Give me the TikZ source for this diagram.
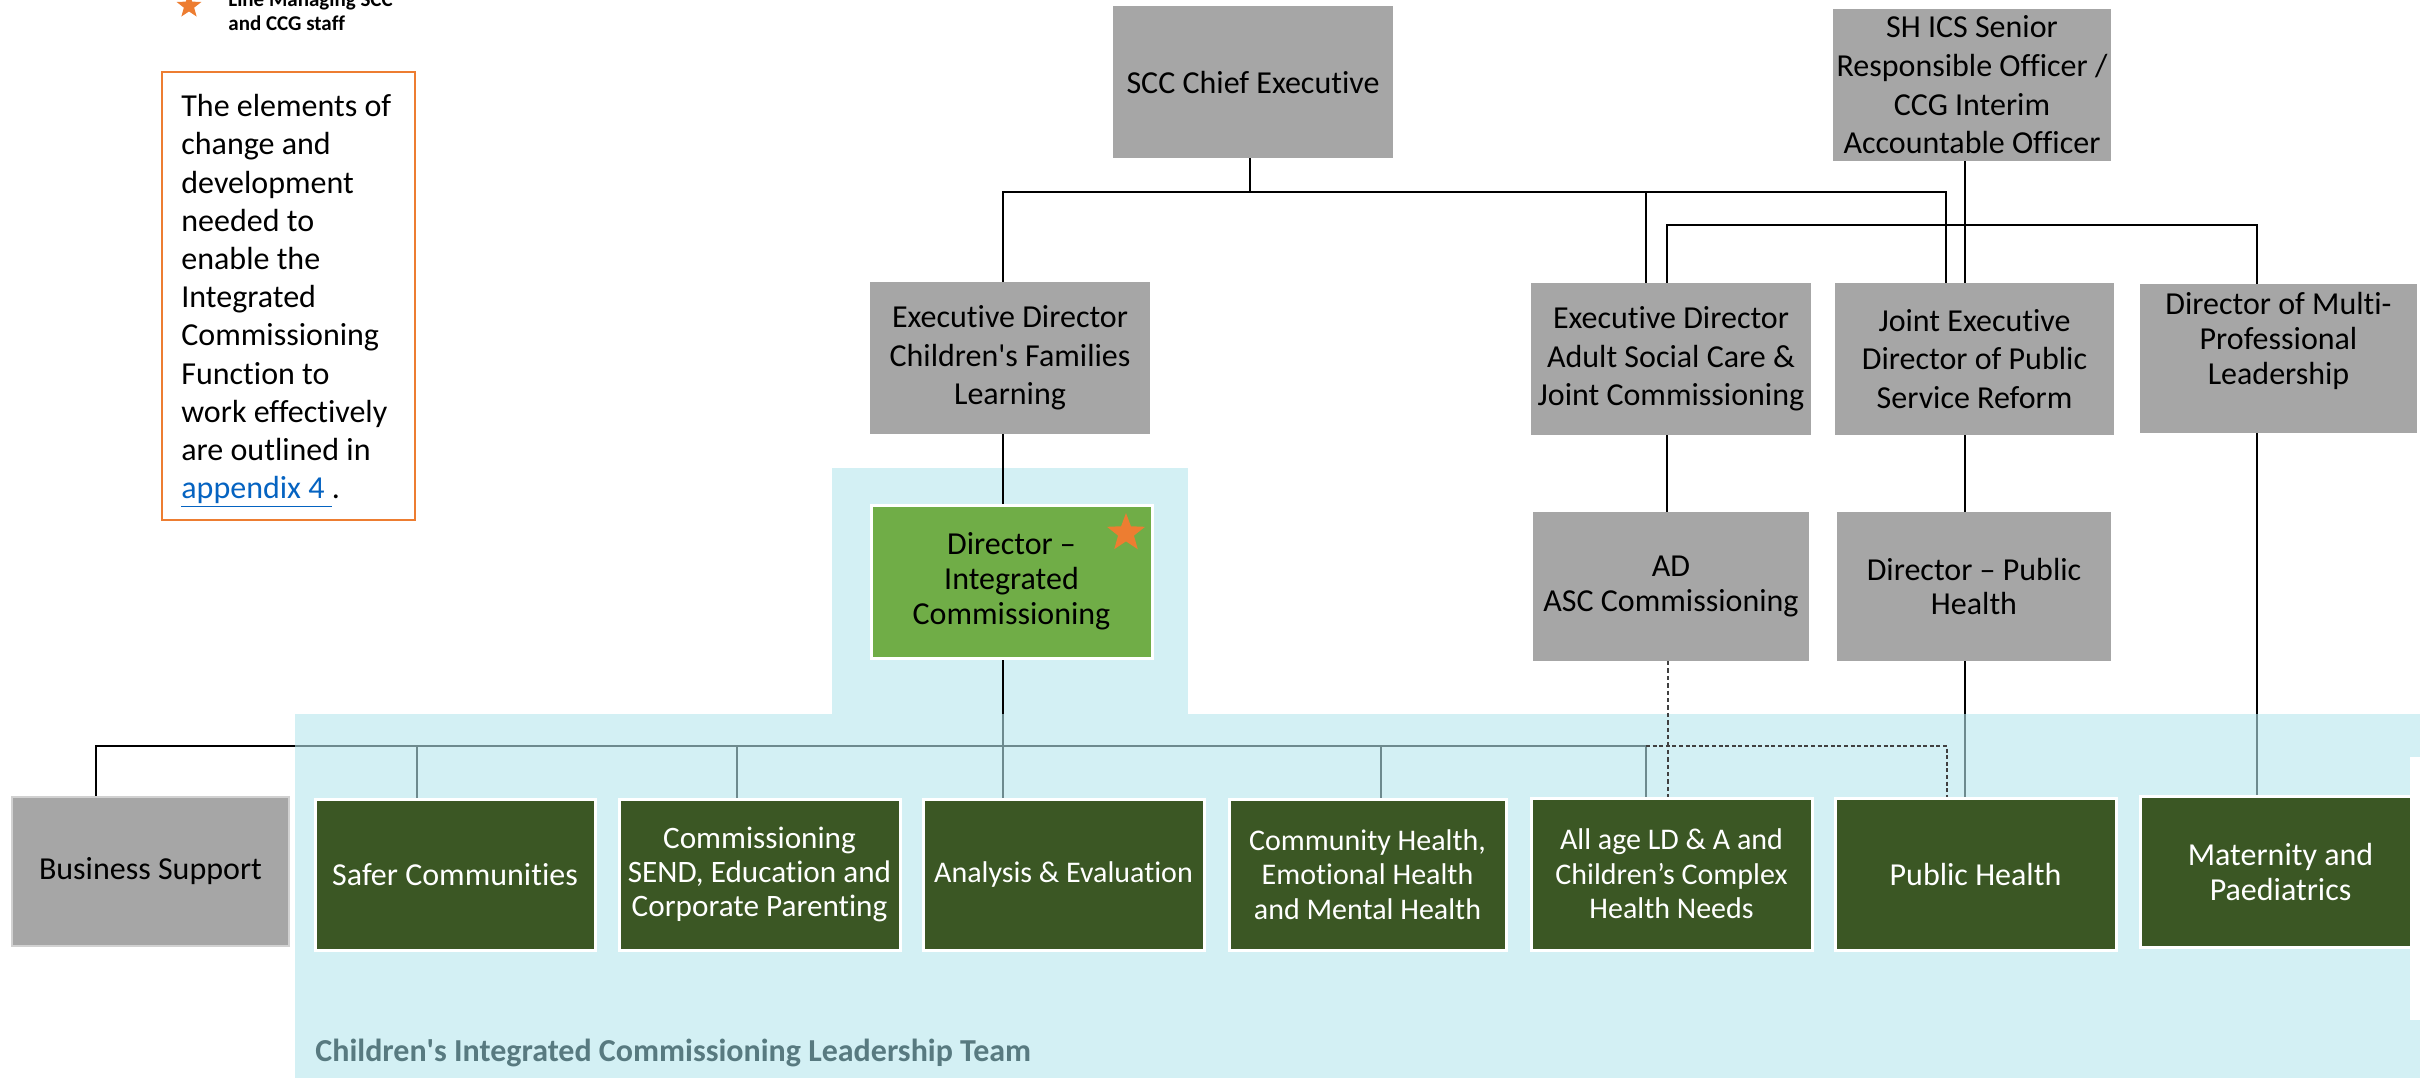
\documentclass[tikz,border=0pt]{standalone}
\usepackage{fontspec}
\setmainfont{Carlito}[Ligatures={TeX,NoCommon}]
\usetikzlibrary{shapes.geometric}

\definecolor{greybox}{HTML}{A6A6A6}
\definecolor{darkgreen}{HTML}{3B5724}
\definecolor{leadgreen}{HTML}{70AD47}
\definecolor{teamcyan}{RGB}{211,240,244}
\definecolor{veilcyan}{RGB}{182,230,237}
\definecolor{accent}{HTML}{ED7D31}
\definecolor{linkblue}{HTML}{0563C1}
\definecolor{teamtext}{RGB}{88,122,128}

\pgfdeclarelayer{bg}
\pgfdeclarelayer{wires}
\pgfdeclarelayer{veil}
\pgfdeclarelayer{dashes}
\pgfsetlayers{bg,wires,veil,dashes,main}

\tikzset{
  wh/.style 2 args={minimum width=#1*0.5pt, minimum height=#2*0.5pt},
  rolebox/.style={inner sep=0pt, outer sep=0pt, align=center,
    font=\fontsize{16}{19.3}\selectfont},
  tight/.style={font=\fontsize{16}{17.4}\selectfont},
  small/.style={font=\fontsize{15}{17.2}\selectfont},
  greyrole/.style={rolebox, fill=greybox, text=black},
  greenrole/.style={rolebox, tight, fill=darkgreen, draw=white, line width=1.5pt, text=white},
  leadrole/.style={rolebox, tight, fill=leadgreen, draw=white, line width=1.5pt, text=black},
  conn/.style={line width=0.7pt, draw=black},
  dashline/.style={line width=0.7pt, draw=black!75, dash pattern=on 2.2pt off 1.5pt},
  dotline/.style={line width=0.7pt, draw=black!75, dash pattern=on 2pt off 1.3pt},
  starmark/.style={star, star points=5, star point ratio=2.4, fill=accent,
    inner sep=0pt, outer sep=0pt},
}

\begin{document}
\begin{tikzpicture}[x=0.5pt,y=-0.5pt]
\useasboundingbox (0,0) rectangle (2420,1078);

% ---- legend ----
\node[starmark, minimum size=13pt] (legstar) at (189,6) {};
\node[anchor=base west, inner sep=0pt, font=\fontsize{10.5}{12}\selectfont\bfseries]
  (legline1) at (228,6) {Line Managing SCC};
\node[anchor=base west, inner sep=0pt, font=\fontsize{10.5}{12}\selectfont\bfseries]
  (legline2) at (228,30) {and CCG staff};

\node[draw=accent, line width=0.8pt, inner sep=0pt, outer sep=0pt,
      minimum width=126.5pt, minimum height=224pt] (notebox) at (288.5,296) {};
\node[anchor=north west, inner sep=0pt, align=left,
      font=\fontsize{16}{19.1}\selectfont] (notetext) at (181,94)
  {The elements of\\change and\\development\\needed to\\enable the\\Integrated\\%
   Commissioning\\Function to\\work effectively\\are outlined in\\%
   {\color{linkblue}\underline{appendix 4\ }}.};

% ---- top level ----
\node[greyrole, wh={280}{152}] (scc) at (1253,82) {SCC Chief Executive};
\node[greyrole, wh={278}{152}] (shics) at (1972,85)
  {SH ICS Senior\\Responsible Officer /\\CCG Interim\\Accountable Officer};

% ---- executive directors ----
\node[greyrole, wh={280}{152}] (edcfl) at (1010,358)
  {Executive Director\\Children\textquotesingle s Families\\Learning};
\node[greyrole, wh={280}{152}] (edasc) at (1671,359)
  {Executive Director\\Adult Social Care \&\\Joint Commissioning};
\node[greyrole, wh={279}{152}] (jed) at (1974.5,359)
  {Joint Executive\\Director of Public\\Service Reform};
\node[greyrole, wh={277}{149}] (dmpl) at (2278.5,358.5) {};
\node[rolebox, tight] (dmpltext) at (2278.5,341) {Director of Multi-\\Professional\\Leadership};

% ---- directors ----
\node[leadrole, wh={281}{153}] (dic) at (1011.5,581.5)
  {Director --\\Integrated\\Commissioning};
\node[starmark, minimum size=20pt] (dicstar) at (1126,533) {};
\node[greyrole, tight, wh={276}{149}] (adasc) at (1671,586.5) {AD\\ASC Commissioning};
\node[greyrole, tight, wh={274}{149}] (dph) at (1974,586.5) {Director -- Public\\Health};

% ---- leadership team ----
\node[greyrole, draw=black!18, line width=0.8pt, wh={277}{149}] (bsup) at (150.5,871.5)
  {Business Support};
\node[greenrole, wh={280}{151}] (safer) at (455,874.5) {Safer Communities};
\node[greenrole, font=\fontsize{15.6}{17.2}\selectfont, wh={281}{151}] (send) at (759.5,874.5)
  {Commissioning\\SEND, Education and\\Corporate Parenting};
\node[greenrole, small, wh={281}{151}] (anal) at (1063.5,874.5) {Analysis \& Evaluation};
\node[greenrole, small, wh={277}{151}] (comm) at (1367.5,874.5)
  {Community Health,\\Emotional Health\\and Mental Health};
\node[greenrole, small, wh={281}{152}] (allage) at (1671.5,874)
  {All age LD \& A and\\Children’s Complex\\Health Needs};
\node[greenrole, wh={281}{152}] (pubh) at (1975.5,874) {Public Health};
\node[greenrole, wh={281}{151}] (mat) at (2280.5,872) {Maternity and\\Paediatrics};

\node[anchor=base west, inner sep=0pt, text=teamtext,
      font=\fontsize{16}{18}\selectfont\bfseries] (teamlabel) at (315,1061)
  {Children\textquotesingle s Integrated Commissioning Leadership Team};

% strip at the right edge
\fill[white] (2410,757) rectangle (2420,1020);

% ---- guide coordinates for connectors ----
\coordinate (busA) at (0,192);
\coordinate (busB) at (0,225);
\coordinate (busC) at (0,746);
\coordinate (xscc) at (1250,0);
\coordinate (xchild) at (1003,0);
\coordinate (xadult) at (1646,0);
\coordinate (xjoint) at (1946,0);
\coordinate (xics) at (1965,0);
\coordinate (xasc) at (1667,0);
\coordinate (xmulti) at (2257,0);
\coordinate (xbsup) at (96,0);
\coordinate (xsafer) at (417,0);
\coordinate (xsend) at (737,0);
\coordinate (xcomm) at (1381,0);
\coordinate (xdash) at (1668,0);
\coordinate (xdot) at (1947,0);

% ---- backgrounds ----
\begin{pgfonlayer}{bg}
  \fill[teamcyan] (832,468) rectangle (1188,714);
\end{pgfonlayer}
\begin{pgfonlayer}{veil}
  \fill[veilcyan, fill opacity=0.6] (295,714) rectangle (2420,1078);
\end{pgfonlayer}

% ---- reporting lines ----
\begin{pgfonlayer}{wires}
  \draw[conn] (scc.south -| xscc) -- (busA -| xscc);
  \draw[conn] (edcfl.north -| xchild) |- (busA -| xjoint) -- (jed.north -| xjoint);
  \draw[conn] (busA -| xadult) -- (edasc.north -| xadult);
  \draw[conn] (shics.south -| xics) -- (jed.north -| xics);
  \draw[conn] (edasc.north -| xasc) |- (busB -| xmulti) -- (dmpl.north -| xmulti);
  \draw[conn] (edcfl.south -| xchild) -- (dic.north -| xchild);
  \draw[conn] (edasc.south -| xasc) -- (adasc.north -| xasc);
  \draw[conn] (jed.south -| xics) -- (dph.north -| xics);
  \draw[conn] (dmpl.south -| xmulti) -- (mat.north -| xmulti);
  \draw[conn] (dic.south -| xchild) -- (anal.north -| xchild);
  \draw[conn] (bsup.north -| xbsup) |- (busC -| xadult) -- (allage.north -| xadult);
  \draw[conn] (busC -| xsafer) -- (safer.north -| xsafer);
  \draw[conn] (busC -| xsend) -- (send.north -| xsend);
  \draw[conn] (busC -| xcomm) -- (comm.north -| xcomm);
  \draw[conn] (dph.south -| xics) -- (pubh.north -| xics);
\end{pgfonlayer}
\begin{pgfonlayer}{dashes}
  \draw[dashline] (adasc.south -| xdash) -- (allage.north -| xdash);
  \draw[dotline] (busC -| xadult) -| (pubh.north -| xdot);
\end{pgfonlayer}
\end{tikzpicture}
\end{document}
